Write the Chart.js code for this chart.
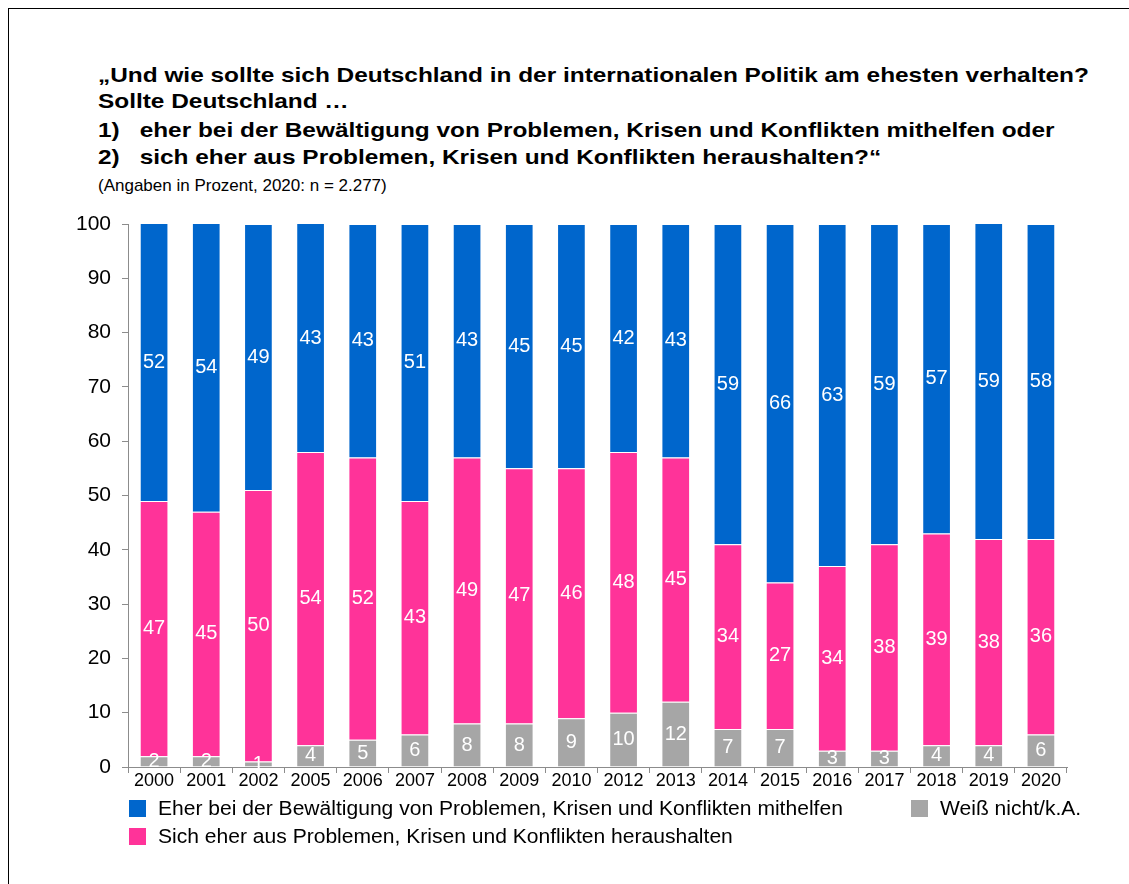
<!DOCTYPE html>
<html>
<head>
<meta charset="utf-8">
<script src="https://cdn.jsdelivr.net/npm/chart.js@4/dist/chart.umd.min.js"></script>
<style>
  html, body { margin:0; padding:0; background:#fff; width:1129px; height:884px; overflow:hidden; font-family:"Liberation Sans", Arial, sans-serif; }
  #frame { position:absolute; left:8px; top:8px; width:1200px; height:1000px; border:1.5px solid #000; box-sizing:border-box; }
  .t { position:absolute; left:98px; font-weight:bold; font-size:20.5px; line-height:24px; color:#000; white-space:nowrap; transform:scaleX(1.19); transform-origin:0 50%; }
  .num { display:inline-block; width:35px; }
  .sub { position:absolute; left:98px; font-size:17px; line-height:20px; color:#000; white-space:nowrap; }
  .lg { position:absolute; font-size:19.5px; line-height:22px; color:#000; white-space:nowrap; transform:scaleX(1.08); transform-origin:0 50%; }
  .sw { position:absolute; width:17px; height:17px; }
  #c { position:absolute; left:0; top:0; }
</style>
</head>
<body>
<div id="frame"></div>
<div class="t" style="top:63px">„Und wie sollte sich Deutschland in der internationalen Politik am ehesten verhalten?</div>
<div class="t" style="top:89px">Sollte Deutschland …</div>
<div class="t" style="top:118px"><span class="num">1)</span>eher bei der Bewältigung von Problemen, Krisen und Konflikten mithelfen oder</div>
<div class="t" style="top:145px"><span class="num">2)</span>sich eher aus Problemen, Krisen und Konflikten heraushalten?“</div>
<div class="sub" style="top:176px">(Angaben in Prozent, 2020: n = 2.277)</div>

<canvas id="c" width="1129" height="884"></canvas>

<div class="sw" style="left:129px; top:800px; background:#0066CC"></div>
<div class="lg" style="left:158px; top:797px">Eher bei der Bewältigung von Problemen, Krisen und Konflikten mithelfen</div>
<div class="sw" style="left:911px; top:800px; background:#A6A6A6"></div>
<div class="lg" style="left:940px; top:797px">Weiß nicht/k.A.</div>
<div class="sw" style="left:129px; top:828px; background:#FF3399"></div>
<div class="lg" style="left:158px; top:825px">Sich eher aus Problemen, Krisen und Konflikten heraushalten</div>

<script>
const years = ["2000","2001","2002","2005","2006","2007","2008","2009","2010","2012","2013","2014","2015","2016","2017","2018","2019","2020"];
const weissNicht = [2,2,1,4,5,6,8,8,9,10,12,7,7,3,3,4,4,6];
const heraushalten = [47,45,50,54,52,43,49,47,46,48,45,34,27,34,38,39,38,36];
const mithelfen = [52,54,49,43,43,51,43,45,45,42,43,59,66,63,59,57,59,58];
const yTicks = [0,10,20,30,40,50,60,70,80,90,100];

const labelPlugin = {
  id: 'segLabels',
  afterDatasetsDraw(chart) {
    const ctx = chart.ctx;
    const area = chart.chartArea;
    ctx.save();
    ctx.font = '20px "Liberation Sans", Arial, sans-serif';
    ctx.fillStyle = '#fff';
    ctx.textAlign = 'center';
    ctx.textBaseline = 'middle';
    chart.data.datasets.forEach((ds, i) => {
      const meta = chart.getDatasetMeta(i);
      meta.data.forEach((el, j) => {
        const p = el.getProps(['x','y','base'], true);
        const top = Math.max(p.y, area.top);
        const yc = (top + p.base) / 2;
        ctx.fillText(String(ds.data[j]), p.x, yc);
      });
    });
    ctx.restore();
  }
};

const common = { borderColor: 'rgba(255,255,255,0.75)', borderWidth: 1, barPercentage: 0.55, categoryPercentage: 1.0, clip: 0 };

new Chart(document.getElementById('c'), {
  type: 'bar',
  data: {
    labels: years,
    datasets: [
      Object.assign({ label: 'Weiß nicht/k.A.', data: weissNicht, backgroundColor: '#A6A6A6' }, common),
      Object.assign({ label: 'Sich eher aus Problemen, Krisen und Konflikten heraushalten', data: heraushalten, backgroundColor: '#FF3399' }, common),
      Object.assign({ label: 'Eher bei der Bewältigung von Problemen, Krisen und Konflikten mithelfen', data: mithelfen, backgroundColor: '#0066CC' }, common)
    ]
  },
  options: {
    responsive: false,
    animation: false,
    layout: { padding: { left: 0, right: 62, top: 224, bottom: 87 } },
    plugins: { legend: { display: false }, title: { display: false }, tooltip: { enabled: false } },
    scales: {
      x: {
        stacked: true,
        grid: { offset: true, drawOnChartArea: false, drawTicks: true, tickLength: 6, color: '#8c8c8c', lineWidth: 1 },
        border: { color: '#8c8c8c', width: 1 },
        ticks: { color: '#000', font: { family: '"Liberation Sans", Arial, sans-serif', size: 18 }, padding: -3, maxRotation: 0, autoSkip: false },
        afterFit(s) { s.height = 30; }
      },
      y: {
        stacked: true,
        min: 0, max: 100,
        afterBuildTicks(s) { s.ticks = yTicks.map(v => ({ value: v })); },
        grid: { drawOnChartArea: false, drawTicks: true, tickLength: 6, color: '#8c8c8c', lineWidth: 1 },
        border: { color: '#8c8c8c', width: 1 },
        ticks: { color: '#000', font: { family: '"Liberation Sans", Arial, sans-serif', size: 21 }, padding: 11 },
        afterFit(s) { s.width = 128; }
      }
    }
  },
  plugins: [labelPlugin]
});
</script>
</body>
</html>
